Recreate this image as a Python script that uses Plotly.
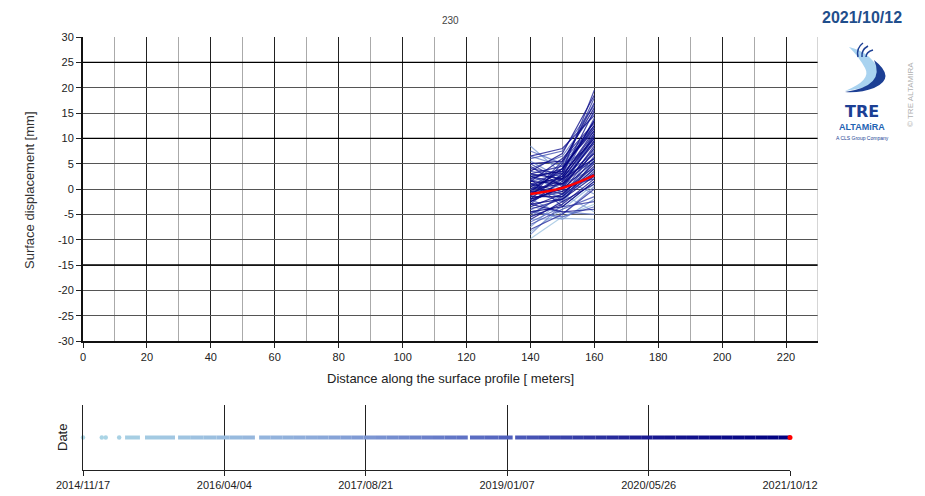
import plotly.graph_objects as go
import pandas as pd

# ---------------- data ----------------
DIST = [140, 150, 160]

# displacement profiles (mm) at 140 / 150 / 160 m, ordered from earliest to latest acquisition
P140 = [-9.8, -8.5, -6.0, 3.0, -7.5, 8.5, -4.0, 5.5, -9.0, -2.0, 6.5, -5.5,
        1.0, -3.5, 7.5, -1.5, 2.5, -6.5, 4.0, 0.0, -4.5, 3.5, -2.5, 6.0, -7.0, 1.5,
        -0.5, 5.0, -3.0, 0.5, -5.0, 2.0, -1.0, 4.5, -8.0,
        0.0, -2.0, 3.0, -4.0, 1.0, -1.5, 6.5, -3.0, 2.5, -0.5, 1.5, -5.5, 4.0, -2.5,
        0.5, 3.5, -1.0, -3.5, 2.0, -6.0, 0.0, 5.0, -2.0, 1.0, -1.0,
        -2.5, 0.5, -1.5, 2.5, -3.0, 1.5, -0.5, -4.5, 3.0, -2.0]
P150 = [-5.5, -4.0, -5.8, -1.0, -2.0, 3.0, -6.0, 2.0, -3.0, -5.0, 4.5, -1.0,
        -2.0, -4.5, 5.0, 1.0, 0.0, -3.5, 6.5, -1.5, -5.5, 2.5, 0.5, 7.5, -4.0, 3.0,
        -2.5, 1.5, 2.0, 4.0, -1.5, -3.5, 5.5, 0.5, -5.0,
        3.5, -0.5, 4.5, -2.0, 2.0, 5.0, 8.0, -4.5, 1.0, 0.0, 6.0, -3.0, 3.0, 1.5,
        -1.0, 7.0, 2.5, -1.0, 4.0, -2.5, 1.0, 5.5, 3.0, -0.5, 2.0,
        0.5, 2.5, -1.5, 3.5, -2.0, 1.0, 4.0, -3.5, 2.0, 0.0]
P160 = [-3.0, 1.0, -6.0, -4.5, 4.0, 5.0, -2.0, -1.0, 6.0, 0.5, 9.0, 2.5,
        8.0, -5.0, 12.0, 4.0, 10.5, 1.5, 15.0, 3.0, -3.5, 7.0, 11.0, 16.5, -1.5, 13.5,
        5.5, 9.5, 14.0, 18.0, 6.5, -2.5, 12.5, 2.0, 0.0,
        19.5, 7.5, 11.5, 3.5, 10.0, 17.0, 14.5, -4.0, 6.0, 8.5, 13.0, 2.0, 15.5, 9.0,
        4.5, 18.5, 11.0, 5.0, 12.0, 1.0, 7.0, 16.0, 10.0, 3.0, 6.0,
        8.0, 11.5, 4.0, 13.5, 2.5, 9.5, 12.5, 1.5, 10.5, 5.5]

# latest acquisition profile (2021/10/12)
LAST_PROFILE = [-1.0, 0.2, 2.7]

# acquisition timeline: runs of acquisitions (start, end)
RUN_START = ["2014-11-17", "2015-01-23", "2015-02-06", "2015-03-26", "2015-04-16",
             "2015-06-26", "2015-10-22", "2016-08-06", "2018-08-28", "2019-02-05"]
RUN_END = ["2014-11-17", "2015-01-23", "2015-02-06", "2015-03-26", "2015-06-08",
           "2015-10-11", "2016-07-22", "2018-08-20", "2019-01-27", "2021-10-12"]

FIRST_DATE = "2014-11-17"
LAST_DATE = "2021-10-12"
DATE_TICKS = ["2014-11-17", "2016-04-04", "2017-08-21", "2019-01-07", "2020-05-26", "2021-10-12"]
DATE_TICK_TEXT = ["2014/11/17", "2016/04/04", "2017/08/21", "2019/01/07", "2020/05/26", "2021/10/12"]

X_TICKS = [0, 20, 40, 60, 80, 100, 120, 140, 160, 180, 200, 220]
Y_TICKS = [30, 25, 20, 15, 10, 5, 0, -5, -10, -15, -20, -25, -30]
Y_MAJOR = [25, 10, -15]

# ---------------- style helpers ----------------
PAGE_W, PAGE_H = 925, 496
OFF = 8  # default body margin of the html page
W, H = PAGE_W - OFF, PAGE_H - OFF
FONT = "Liberation Sans, Arial, sans-serif"
STOPS = [(0.0, (173, 216, 230)), (0.33, (140, 170, 218)), (0.58, (85, 102, 192)),
         (0.8, (25, 25, 145)), (1.0, (0, 0, 128))]


def grad(t):
    t = max(0.0, min(1.0, t))
    for (a, ca), (b, cb) in zip(STOPS[:-1], STOPS[1:]):
        if t <= b:
            f = (t - a) / (b - a) if b > a else 0
            return [round(ca[i] + (cb[i] - ca[i]) * f) for i in range(3)]
    return list(STOPS[-1][1])


def rgba(c, a=1.0):
    return f"rgba({c[0]},{c[1]},{c[2]},{a})"


def X(p):
    return (p - OFF) / W


def Y(p):
    return 1 - (p - OFF) / H


fig = go.Figure()

# ---------------- main profile chart ----------------
n = len(P140)
for i in range(n):
    t = 0.15 + 0.85 * (i / (n - 1)) ** 0.5
    c = grad(t)
    fig.add_trace(go.Scatter(x=DIST, y=[P140[i], P150[i], P160[i]], mode="lines",
                             line=dict(color=rgba(c, 0.8), width=1.2),
                             hoverinfo="skip", showlegend=False, xaxis="x", yaxis="y"))
fig.add_trace(go.Scatter(x=DIST, y=LAST_PROFILE, mode="lines", line=dict(color="red", width=2.5, shape="spline"),
                         showlegend=False, xaxis="x", yaxis="y"))

# ---------------- timeline ----------------
d0 = pd.Timestamp(FIRST_DATE)
d1 = pd.Timestamp(LAST_DATE)
span = (d1 - d0).days
for s, e in zip(RUN_START, RUN_END):
    s, e = pd.Timestamp(s), pd.Timestamp(e)
    if s == e:
        c = grad((s - d0).days / span)
        fig.add_trace(go.Scatter(x=[s], y=[0.5], mode="markers",
                                 marker=dict(color=rgba(c), size=4.5, line=dict(width=0)),
                                 showlegend=False, xaxis="x2", yaxis="y2", cliponaxis=False))
        continue
    # draw run as a line, subdivided only to render the colour gradient
    pieces = max(1, int((e - s).days / 40))
    for k in range(pieces):
        a = s + (e - s) * (k / pieces)
        b = s + (e - s) * ((k + 1) / pieces)
        c = grad(((a - d0).days + (b - d0).days) / 2 / span)
        fig.add_trace(go.Scatter(x=[a, b], y=[0.5, 0.5], mode="lines",
                                 line=dict(color=rgba(c), width=4),
                                 showlegend=False, xaxis="x2", yaxis="y2", cliponaxis=False))
fig.add_trace(go.Scatter(x=[d1], y=[0.5], mode="markers", marker=dict(color="red", size=5),
                         showlegend=False, xaxis="x2", yaxis="y2", cliponaxis=False))

# ---------------- layout ----------------
tickfont = dict(family=FONT, size=11, color="#222")
fig.update_layout(
    width=W, height=H, margin=dict(l=0, r=0, t=0, b=0, autoexpand=False),
    paper_bgcolor="white", plot_bgcolor="white", font=dict(family=FONT),
    xaxis=dict(domain=[X(83), X(818)], range=[0, 230], tickvals=X_TICKS, automargin=False,
               ticktext=[str(v) for v in X_TICKS], tickfont=tickfont,
               showgrid=True, gridcolor="#222", gridwidth=1,
               minor=dict(dtick=10, tick0=0, showgrid=True, gridcolor="#aaaaaa", gridwidth=1),
               ticks="outside", ticklen=5, tickcolor="#222",
               showline=True, linecolor="#111", linewidth=2, zeroline=False),
    yaxis=dict(domain=[Y(341), Y(37)], range=[-30, 30], tickvals=Y_TICKS, automargin=False,
               ticktext=[str(v) for v in Y_TICKS], tickfont=tickfont,
               showgrid=True, gridcolor="#555", gridwidth=1,
               ticks="outside", ticklen=5, tickcolor="#222",
               showline=True, linecolor="#111", linewidth=2, zeroline=False),
    xaxis2=dict(domain=[X(83), X(790)], type="date", range=[d0, d1], automargin=False,
                tickvals=DATE_TICKS, ticktext=DATE_TICK_TEXT, tickfont=tickfont,
                showgrid=True, gridcolor="#222", gridwidth=1,
                ticks="outside", ticklen=5, tickcolor="#222",
                showline=True, linecolor="#222", linewidth=1, zeroline=False, anchor="y2"),
    yaxis2=dict(domain=[Y(470), Y(405)], range=[0, 1], showticklabels=False, automargin=False,
                showgrid=False, zeroline=False, showline=True, linecolor="#222",
                linewidth=1, ticks="", anchor="x2"),
)

shapes = []
for v in Y_MAJOR:
    shapes.append(dict(type="line", xref="x", yref="y", x0=0, x1=230, y0=v, y1=v,
                       line=dict(color="#000", width=1.4), layer="between"))
# right frame of the profile chart
shapes.append(dict(type="line", xref="x", yref="y", x0=230, x1=230, y0=-30, y1=30,
                   line=dict(color="#aaaaaa", width=1), layer="between"))


def P(x, y):
    return f"{X(x):.5f},{Y(y):.5f}"


# logo swoosh (decoration)
shapes.append(dict(type="path", xref="paper", yref="paper",
                   path=(f"M{P(849,47)} Q{P(870,52)} {P(879,70)} Q{P(885,86)} {P(845,91)} "
                         f"Q{P(872,80)} {P(865,68)} Q{P(859,57)} {P(849,47)} Z"),
                   fillcolor="#a9d3f0", line=dict(width=0)))
shapes.append(dict(type="path", xref="paper", yref="paper",
                   path=(f"M{P(874,60)} Q{P(897,78)} {P(874,88)} Q{P(861,93)} {P(845,92)} "
                         f"Q{P(886,86)} {P(874,60)} Z"),
                   fillcolor="#1c3f94", line=dict(width=0)))
for (ax, ay, bx, by, cx, cy) in [(858, 57, 856, 48, 863, 43), (862, 57, 861, 50, 868, 46), (866, 57, 866, 52, 873, 50)]:
    shapes.append(dict(type="path", xref="paper", yref="paper",
                       path=f"M{P(ax,ay)} Q{P(bx,by)} {P(cx,cy)}",
                       line=dict(color="#1c3f94", width=1.5)))
fig.update_layout(shapes=shapes)

ann = [
    dict(text="230", x=X(450), y=Y(20), font=dict(size=10, color="#444")),
    dict(text="<b>2021/10/12</b>", x=X(862), y=Y(18), font=dict(size=16, color="#1f4e8c")),
    dict(text="Surface displacement [mm]", x=X(29), y=Y(190), textangle=-90, font=dict(size=13, color="#333")),
    dict(text="Distance along the surface profile [ meters]", x=X(450), y=Y(378), font=dict(size=13, color="#222")),
    dict(text="Date", x=X(62), y=Y(438), textangle=-90, font=dict(size=13, color="#222")),
    dict(text="<b>TRE</b>", x=X(862), y=Y(111), font=dict(size=16, color="#1c3f94", family="DejaVu Sans")),
    dict(text="<b>ALTAMiRA</b>", x=X(862), y=Y(127), font=dict(size=9, color="#1f64b4")),
    dict(text="A CLS Group Company", x=X(862), y=Y(138), font=dict(size=5, color="#1c3f94")),
    dict(text="© TRE ALTAMIRA", x=X(910), y=Y(95), textangle=-90, font=dict(size=8, color="#b0b0b0")),
]
for a in ann:
    a.update(xref="paper", yref="paper", showarrow=False, xanchor="center", yanchor="middle")
    a["font"].setdefault("family", FONT)
fig.update_layout(annotations=ann)

fig.write_html("out.html")
